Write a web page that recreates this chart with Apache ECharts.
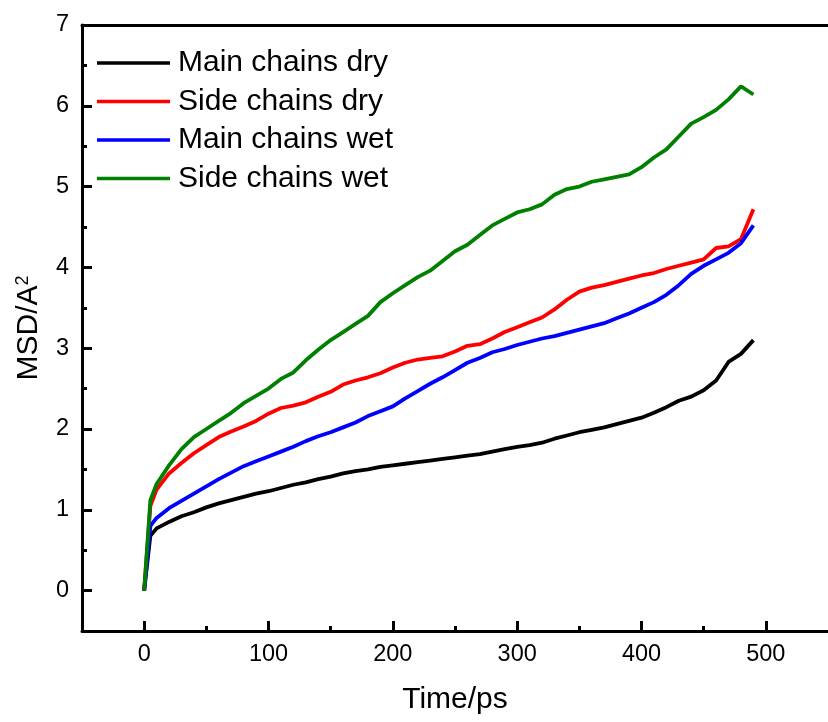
<!DOCTYPE html>
<html>
<head>
<meta charset="utf-8">
<script src="https://cdn.jsdelivr.net/npm/echarts@6/dist/echarts.min.js"></script>
<style>
html,body{margin:0;padding:0;background:#fff;}
#chart{width:828px;height:722px;}
</style>
</head>
<body>
<div id="chart"></div>
<script>
const times = [0,5,10,20,30,40,50,60,70,80,90,100,110,120,130,140,150,160,170,180,190,200,210,220,230,240,250,260,270,280,290,300,310,320,330,340,350,360,370,380,390,400,410,420,430,440,450,460,470,480,490];
const mainDry = [0,0.68,0.77,0.85,0.92,0.97,1.03,1.08,1.12,1.16,1.20,1.23,1.27,1.31,1.34,1.38,1.41,1.45,1.48,1.50,1.53,1.55,1.57,1.59,1.61,1.63,1.65,1.67,1.69,1.72,1.75,1.78,1.80,1.83,1.88,1.92,1.96,1.99,2.02,2.06,2.10,2.14,2.20,2.27,2.35,2.40,2.48,2.60,2.83,2.93,3.10];
const sideDry = [0,1.05,1.25,1.45,1.58,1.70,1.80,1.90,1.97,2.03,2.10,2.19,2.26,2.29,2.33,2.40,2.46,2.55,2.60,2.64,2.69,2.76,2.82,2.86,2.88,2.90,2.96,3.03,3.05,3.12,3.20,3.26,3.32,3.38,3.48,3.60,3.70,3.75,3.78,3.82,3.86,3.90,3.93,3.98,4.02,4.06,4.10,4.24,4.26,4.35,4.72];
const mainWet = [0,0.80,0.90,1.02,1.11,1.20,1.29,1.38,1.46,1.54,1.60,1.66,1.72,1.78,1.85,1.91,1.96,2.02,2.08,2.16,2.22,2.28,2.38,2.47,2.56,2.64,2.73,2.82,2.88,2.95,2.99,3.04,3.08,3.12,3.15,3.19,3.23,3.27,3.31,3.37,3.43,3.50,3.57,3.66,3.78,3.92,4.02,4.10,4.18,4.30,4.52];
const sideWet = [0,1.12,1.32,1.55,1.75,1.90,2.00,2.10,2.20,2.32,2.41,2.50,2.62,2.70,2.85,2.98,3.10,3.20,3.30,3.40,3.57,3.68,3.78,3.88,3.96,4.08,4.20,4.28,4.40,4.52,4.60,4.68,4.72,4.78,4.90,4.97,5.00,5.06,5.09,5.12,5.15,5.24,5.36,5.46,5.62,5.78,5.86,5.95,6.08,6.24,6.14];
const seriesNames = ['Main chains dry','Side chains dry','Main chains wet','Side chains wet'];
const seriesColors = ['#000000','#ff0000','#0000ff','#008000'];
const xTicks = [0,100,200,300,400,500];
const xMinorTicks = [50,150,250,350,450];
const yTicks = [0,1,2,3,4,5,6,7];
const yMinorTicks = [0.5,1.5,2.5,3.5,4.5,5.5,6.5];

const FONT = 'Liberation Sans, Arial, sans-serif';
const seriesValues = [mainDry, sideDry, mainWet, sideWet];
const chart = echarts.init(document.getElementById('chart'), null, {renderer:'canvas'});
const xBase = {type:'value', min:-50, max:550, gridIndex:0, splitLine:{show:false}};
const yBase = {type:'value', min:-0.5, max:7, gridIndex:0, splitLine:{show:false}};
const axisLineStyle = {show:true, onZero:false, lineStyle:{color:'#000', width:3}};
chart.setOption({
  animation:false,
  backgroundColor:'#fff',
  grid:{left:82, top:25, width:753, height:606, containLabel:false},
  legend:{
    left:97, top:48, orient:'vertical', padding:0,
    itemWidth:73, itemHeight:26, itemGap:8.5,
    icon:'path://M0,0L73,0L73,3.4L0,3.4Z', symbolKeepAspect:true,
    textStyle:{fontFamily:FONT, fontSize:30, color:'#000', lineHeight:26, padding:[0,0,0,3]},
    data:seriesNames
  },
  xAxis:[
    Object.assign({}, xBase, {
      position:'bottom',
      name:'Time/ps', nameLocation:'middle', nameGap:54,
      nameTextStyle:{fontFamily:FONT, fontSize:30, color:'#000'},
      axisLine:axisLineStyle,
      axisTick:{show:true, inside:true, length:10, lineStyle:{color:'#000', width:3}, customValues:xTicks},
      axisLabel:{show:true, margin:12, fontFamily:FONT, fontSize:23.5, color:'#000', customValues:xTicks}
    }),
    Object.assign({}, xBase, {
      position:'bottom',
      axisLine:{show:false, onZero:false},
      axisTick:{show:true, inside:true, length:5, lineStyle:{color:'#000', width:3}, customValues:xMinorTicks},
      axisLabel:{show:false}
    }),
    Object.assign({}, xBase, {
      position:'top',
      axisLine:axisLineStyle,
      axisTick:{show:false},
      axisLabel:{show:false}
    })
  ],
  yAxis:[
    Object.assign({}, yBase, {
      position:'left',
      name:'{a|MSD/A}{s|2}', nameLocation:'middle', nameGap:38,
      nameTextStyle:{fontFamily:FONT, fontSize:30, color:'#000',
        rich:{a:{fontFamily:FONT, fontSize:30, color:'#000'}, s:{fontFamily:FONT, fontSize:18, color:'#000', verticalAlign:'top'}}},
      axisLine:axisLineStyle,
      axisTick:{show:true, inside:true, length:10, lineStyle:{color:'#000', width:3}, customValues:yTicks},
      axisLabel:{show:true, margin:13, fontFamily:FONT, fontSize:23.5, color:'#000', customValues:yTicks}
    }),
    Object.assign({}, yBase, {
      position:'left',
      axisLine:{show:false, onZero:false},
      axisTick:{show:true, inside:true, length:5, lineStyle:{color:'#000', width:3}, customValues:yMinorTicks},
      axisLabel:{show:false}
    })
  ],
  series: seriesNames.map((n, i) => ({
    name:n, type:'line', xAxisIndex:0, yAxisIndex:0,
    symbol:'none', smooth:false,
    lineStyle:{color:seriesColors[i], width:3.8},
    itemStyle:{color:seriesColors[i]},
    data: times.map((t, k) => [t, seriesValues[i][k]])
  }))
});
</script>
</body>
</html>
